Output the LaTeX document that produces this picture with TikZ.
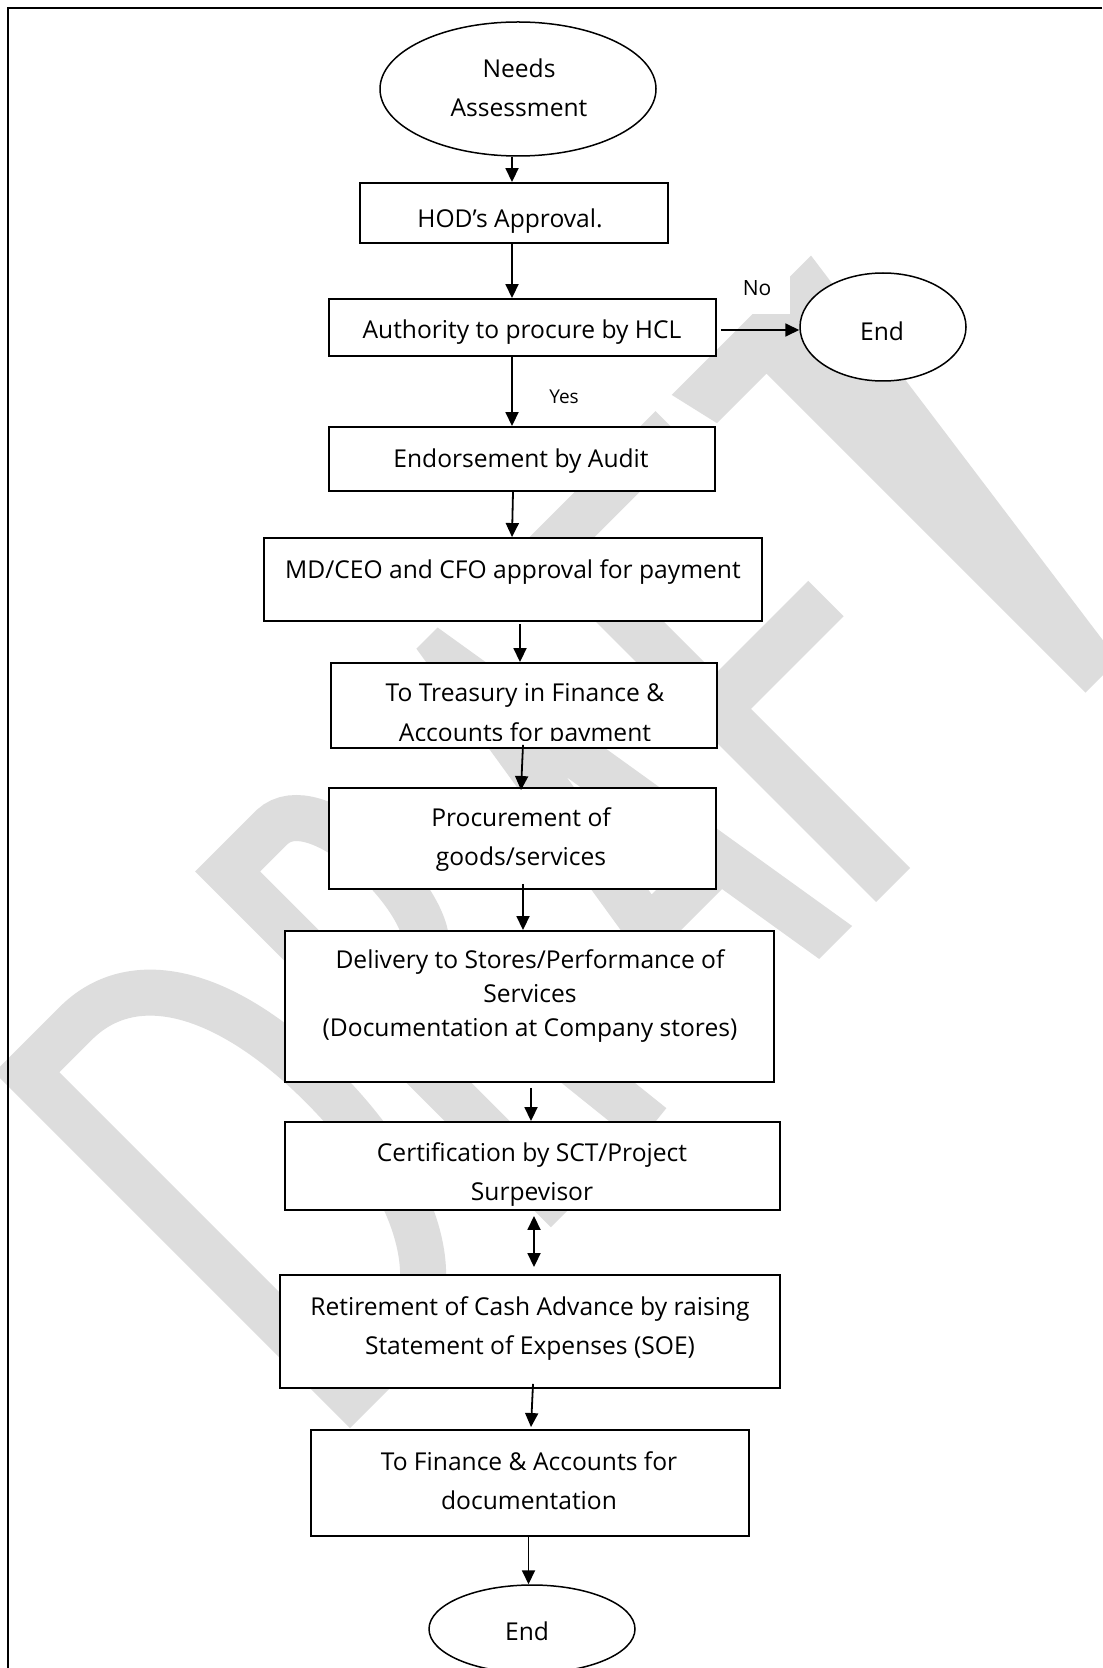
\documentclass[tikz,border=0pt]{standalone}
\usepackage{fontspec}
\setmainfont{Open Sans}
\usetikzlibrary{arrows.meta,shapes.geometric}
\definecolor{wmgray}{RGB}{221,221,221}
\begin{document}
\begin{tikzpicture}[x=0.5pt,y=-0.5pt,
  box/.style={draw, line width=0.95pt, fill=white, inner sep=0pt, rectangle},
  oval/.style={draw, line width=0.75pt, fill=white, inner sep=0pt, ellipse},
  txt/.style={align=center, inner sep=0pt, font=\fontsize{12.3}{19.5}\selectfont},
  lbl/.style={inner sep=0pt, font=\fontsize{10.5}{12}\selectfont},
  arr/.style={line width=0.9pt, -{Triangle[length=7pt,width=6.5pt]}},
  arrboth/.style={line width=0.9pt, {Triangle[length=7pt,width=6.5pt]}-{Triangle[length=7pt,width=6.5pt]}},
  wmline/.style={draw=wmgray, line width=23pt, line join=miter, line cap=butt}]
\useasboundingbox (0,0) rectangle (1102,1668);
\fill[white] (0,0) rectangle (1102,1668);

% ---- diagonal DRAFT watermark, letters in their own (u,v) frame ----
\begin{scope}[shift={(350,1428)}, rotate=45, x=0.5pt, y=0.5pt]
  % D
  \draw[wmline] (23,23) -- (23,480) -- (95,480)
    .. controls (175,478) and (222,395) .. (222,262)
    .. controls (222,140) and (180,23) .. (80,23) -- cycle;
  % R
  \draw[wmline] (307,0) -- (307,480) -- (370,480)
    .. controls (428,478) and (432,330) .. (398,290)
    .. controls (375,262) and (345,258) .. (307,262);
  \draw[wmline] (396,285) -- (427,0);
  % A
  \fill[wmgray, even odd rule] (518,0) -- (598,504) -- (628,504) -- (710,0)
    -- (663.4,0) -- (644.2,118) -- (583.3,118) -- (564.6,0) -- cycle
    (590.6,164) -- (613.4,307) -- (636.7,164) -- cycle;
  % F
  \fill[wmgray] (744,0) -- (744,503) -- (935,503) -- (935,457) -- (792,457)
    -- (792,275) -- (923,275) -- (923,225) -- (792,225) -- (792,0) -- cycle;
  % T
  \fill[wmgray] (958,503) -- (1155,503) -- (1086,0) -- (1040,0) -- (1040,451)
    -- (970,451) -- cycle;
\end{scope}

% page frame
\draw[line width=1pt] (1102,8) -- (8,8) -- (8,1668);

% ---- shapes ----
\node[oval, minimum width=138pt, minimum height=67pt] (needs) at (518,89) {};
\node[box, minimum width=154pt, minimum height=30pt] (hod) at (514,213) {};
\node[box, minimum width=193.5pt, minimum height=28.5pt] (auth) at (522.5,327.5) {};
\node[oval, minimum width=83pt, minimum height=54pt] (endR) at (883,327) {};
\node[box, minimum width=193pt, minimum height=32pt] (endo) at (522,459) {};
\node[box, minimum width=249pt, minimum height=41.5pt] (md) at (513,579.5) {};
\node[box, minimum width=193pt, minimum height=42.5pt] (treas) at (524,705.5) {};
\node[box, minimum width=193.5pt, minimum height=50.5pt] (proc) at (522.5,838.5) {};
\node[box, minimum width=244.5pt, minimum height=75.5pt] (deliv) at (529.5,1006.5) {};
\node[box, minimum width=247.5pt, minimum height=44pt] (cert) at (532.5,1166) {};
\node[box, minimum width=250pt, minimum height=56.5pt] (ret) at (530,1331.5) {};
\node[box, minimum width=219pt, minimum height=53pt] (fin) at (530,1483) {};
\node[oval, minimum width=103pt, minimum height=44pt] (endB) at (532,1629) {};

% ---- texts ----
\node[txt] (needsT) at (519,88) {Needs\\Assessment};
\node[txt] (hodT) at (510,221) {HOD’s Approval.};
\node[txt] (authT) at (522,332) {Authority to procure by HCL};
\node[txt] (endRT) at (882,331) {End};
\node[lbl, fill=white, minimum width=33pt, minimum height=26pt] (noT) at (757,288) {No};
\node[lbl, font=\fontsize{9.5}{11}\selectfont] (yesT) at (564,397) {Yes};
\node[txt] (endoT) at (521,461) {Endorsement by Audit};
\node[txt] (mdT) at (513,572) {MD/CEO and CFO approval for payment};
\node[txt] (treasT1) at (525,695) {To Treasury in Finance \&};
\begin{scope}
  \clip ([yshift=4pt]treas.south west) rectangle (treas.north east);
  \node[txt] (treasT2) at (525,735) {Accounts for payment};
\end{scope}
\node[txt] (procT) at (521,840) {Procurement of\\goods/services};
\node[txt, font=\fontsize{12.3}{17.2}\selectfont] (delivT) at (530,996) {Delivery to Stores/Performance of\\Services\\(Documentation at Company stores)};
\node[txt] (certT) at (532,1175) {Certification by SCT/Project\\Surpevisor};
\node[txt] (retT) at (530,1329) {Retirement of Cash Advance by raising\\Statement of Expenses (SOE)};
\node[txt] (finT) at (529,1481) {To Finance \& Accounts for\\documentation};
\node[txt] (endBT) at (527,1631) {End};

% ---- connectors ----
\draw[arr] ([xshift=-3pt]needs.south) -- ([xshift=-1pt]hod.north);
\draw[arr] ([xshift=-1pt]hod.south) -- ([xshift=-5.25pt]auth.north);
\draw[arr] ([xshift=2pt,yshift=-1.25pt]auth.east) -- ([yshift=-1.5pt]endR.west);
\draw[arr] ([xshift=-5.25pt]auth.south) -- ([xshift=-5pt]endo.north);
\draw[arr] ([xshift=-4.5pt]endo.south) -- ([xshift=-0.5pt]md.north);
\draw[arr] ([xshift=3.5pt,yshift=-1pt]md.south) -- ([xshift=-2pt]treas.north);
\draw[arr] ([xshift=-0.5pt,yshift=2pt]treas.south) -- ([xshift=-0.75pt,yshift=-1.5pt]proc.north);
\draw[arr] ([xshift=0.25pt,yshift=3pt]proc.south) -- ([xshift=-3.25pt]deliv.north);
\draw[arr] ([xshift=0.75pt,yshift=-2.5pt]deliv.south) -- ([xshift=-0.75pt]cert.north);
\draw[arrboth] ([xshift=0.75pt,yshift=-2.5pt]cert.south) -- ([xshift=2pt,yshift=3.5pt]ret.north);
\draw[arr] ([xshift=1.5pt,yshift=2.5pt]ret.south) -- ([xshift=0.5pt,yshift=1pt]fin.north);
\draw[arr] ([xshift=-0.75pt]fin.south) -- ([xshift=-1.75pt]endB.north);
\end{tikzpicture}
\end{document}
